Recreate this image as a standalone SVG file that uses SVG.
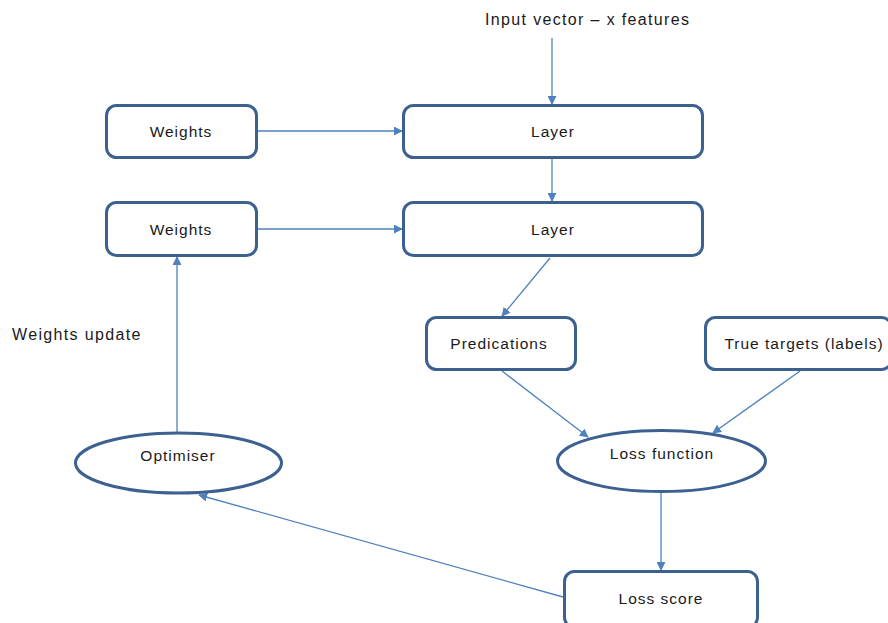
<svg xmlns="http://www.w3.org/2000/svg" width="888" height="623" viewBox="0 0 888 623">
  <defs>
    <style>
      .node rect, .node ellipse { fill: #ffffff; stroke: #3c6191; stroke-width: 3; }
      .lbl { font-family: "Liberation Sans", Arial, sans-serif; font-size: 15.5px; letter-spacing: 1px; fill: #1a1a1a; text-anchor: middle; dominant-baseline: central; }
      .free { font-family: "Liberation Sans", Arial, sans-serif; font-size: 16px; letter-spacing: 1.35px; fill: #1a1a1a; }
      .edge { stroke: #4f81bd; stroke-width: 1.3; fill: none; marker-end: url(#arrow); }
    </style>
    <marker id="arrow" viewBox="0 0 10 10" refX="9" refY="5" markerWidth="9" markerHeight="9" markerUnits="userSpaceOnUse" orient="auto">
      <path d="M0,0 L10,5 L0,10 z" fill="#4f81bd"/>
    </marker>
  </defs>
  <rect width="888" height="623" fill="#ffffff"/>

  <text class="free" x="485" y="25">Input vector  – x features</text>
  <text class="free" x="12" y="340">Weights update</text>

  <g id="connectors">
    <line class="edge" x1="552" y1="38" x2="552" y2="104"/>
    <line class="edge" x1="258" y1="131" x2="402" y2="131"/>
    <line class="edge" x1="552" y1="159" x2="552" y2="201"/>
    <line class="edge" x1="258" y1="229" x2="402" y2="229"/>
    <line class="edge" x1="550" y1="258" x2="502" y2="316"/>
    <line class="edge" x1="502" y1="371" x2="588" y2="437"/>
    <line class="edge" x1="800" y1="371" x2="713" y2="433"/>
    <line class="edge" x1="661" y1="493" x2="661" y2="570"/>
    <line class="edge" x1="563" y1="597" x2="199" y2="495"/>
    <line class="edge" x1="177" y1="432" x2="177" y2="257"/>
  </g>

  <g id="weights1" class="node">
    <rect x="106.5" y="105.5" width="150" height="52" rx="10"/>
    <text class="lbl" x="181" y="131">Weights</text>
  </g>
  <g id="weights2" class="node">
    <rect x="106.5" y="202.5" width="150" height="53" rx="10"/>
    <text class="lbl" x="181" y="229">Weights</text>
  </g>
  <g id="layer1" class="node">
    <rect x="403.5" y="105.5" width="299" height="52" rx="10"/>
    <text class="lbl" x="553" y="131">Layer</text>
  </g>
  <g id="layer2" class="node">
    <rect x="403.5" y="202.5" width="299" height="53" rx="10"/>
    <text class="lbl" x="553" y="229">Layer</text>
  </g>
  <g id="predications" class="node">
    <rect x="426.5" y="317.5" width="149" height="52" rx="10"/>
    <text class="lbl" x="499" y="343">Predications</text>
  </g>
  <g id="true-targets" class="node">
    <rect x="705.5" y="317.5" width="186" height="52" rx="10"/>
    <text class="lbl" x="804" y="343">True targets (labels)</text>
  </g>
  <g id="loss-function" class="node">
    <ellipse cx="661.5" cy="461" rx="104" ry="30.5"/>
    <text class="lbl" x="662" y="453">Loss function</text>
  </g>
  <g id="optimiser" class="node">
    <ellipse cx="178.5" cy="463" rx="103" ry="30"/>
    <text class="lbl" x="178" y="455">Optimiser</text>
  </g>
  <g id="loss-score" class="node">
    <rect x="564.5" y="571.5" width="193" height="56" rx="10"/>
    <text class="lbl" x="661" y="598">Loss score</text>
  </g>
</svg>
